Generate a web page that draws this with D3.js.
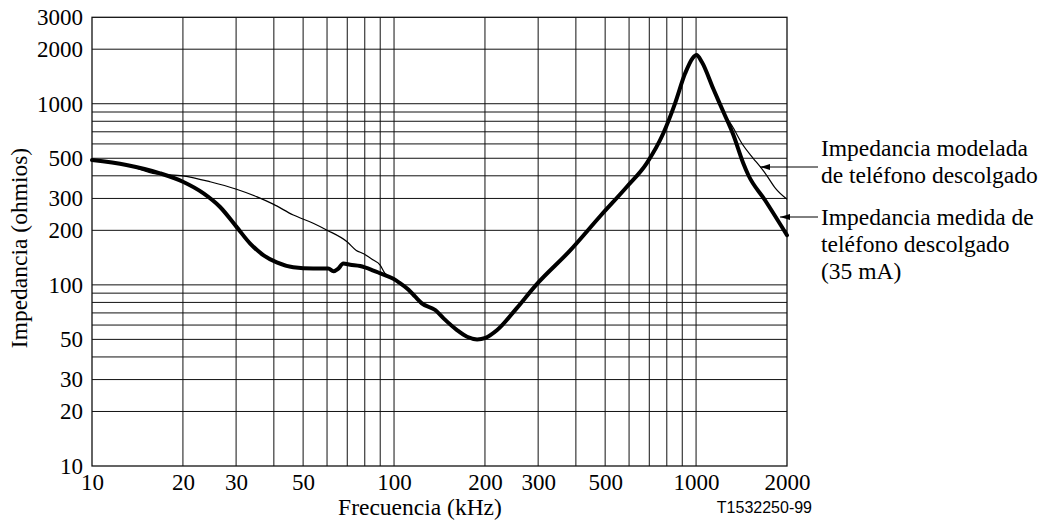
<!DOCTYPE html>
<html>
<head>
<meta charset="utf-8">
<script src="https://cdn.jsdelivr.net/npm/d3@7"></script>
<style>
html,body{margin:0;padding:0;background:#fff;}
svg{display:block;}
text{font-family:"Liberation Serif","Times New Roman",serif;fill:#000;}
</style>
</head>
<body>
<svg id="chart" width="1047" height="526"></svg>
<script>
// ---- data ----
const xTickLabels = [10, 20, 30, 50, 100, 200, 300, 500, 1000, 2000];
const yTickLabels = [10, 20, 30, 50, 100, 200, 300, 500, 1000, 2000, 3000];
const xGrid = [20, 30, 40, 50, 60, 70, 80, 90, 100, 200, 300, 400, 500, 600, 700, 800, 900, 1000];
const yGrid = [20, 30, 40, 50, 60, 70, 80, 90, 100, 200, 300, 400, 500, 600, 700, 800, 900, 1000, 2000];

// measured impedance (thick line)
const measuredFreq = [10, 13, 16.8, 20, 23.4, 26.5, 30.1, 33.4, 36.9, 40.9, 46.4, 54, 60.6, 63, 65.4, 67.9, 71.6, 77.2, 85.4, 89.8, 99.5, 104, 111.7, 117.5, 123.6, 136.9, 145.9, 161.6, 174.5, 188.4, 200.8, 219.5, 254.5, 295, 383, 482, 590, 686, 779, 852, 920, 975, 1003, 1045, 1141, 1232, 1329, 1433, 1489, 1690, 2000];
const measuredZ    = [489, 459, 413, 371, 320, 270, 209, 169, 146, 133, 125, 123, 123, 119, 123, 131, 129, 127, 120, 116, 108, 103, 94, 86, 79, 72.6, 65.3, 56.3, 51.7, 50, 51, 56.3, 74.2, 99.7, 155, 240, 348, 469, 687, 1005, 1471, 1790, 1858, 1700, 1205, 900, 672, 469, 404, 294, 188];

// modelled impedance (thin line)
const modelFreq = [10, 13, 16.3, 20, 24.6, 30.1, 35.2, 39.8, 46.4, 54, 59.8, 69.9, 75, 79, 85.4, 89.8, 93.2, 99.5, 104, 111.7, 117.5, 123.6, 136.9, 145.9, 161.6, 174.5, 188.4, 200.8, 219.5, 254.5, 295, 383, 482, 590, 686, 779, 852, 920, 975, 1003, 1045, 1141, 1232, 1329, 1417, 1546, 1630, 1710, 1832, 2000];
const modelZ    = [489, 459, 410, 400, 371, 337, 306, 279, 243, 219, 201, 173, 155, 149, 137, 129, 116, 108, 103, 94, 86, 79, 72.6, 65.3, 56.3, 51.7, 50, 51, 56.3, 74.2, 99.7, 155, 240, 348, 469, 687, 1005, 1471, 1790, 1858, 1700, 1205, 900, 734, 605, 500, 449, 404, 341, 297];

const legendModel = ["Impedancia modelada", "de teléfono descolgado"];
const legendMeasured = ["Impedancia medida de", "teléfono descolgado", "(35 mA)"];

// ---- chart ----
const svg = d3.select("#chart");
const x = d3.scaleLog().domain([10, 2000]).range([92, 787]);
const y = d3.scaleLog().domain([10, 3000]).range([466, 17.3]);

const grid = svg.append("g").attr("stroke", "#111").attr("stroke-width", 1);
grid.selectAll("line.v").data(xGrid).enter().append("line")
  .attr("x1", d => x(d)).attr("x2", d => x(d)).attr("y1", y(3000)).attr("y2", y(10));
grid.selectAll("line.h").data(yGrid).enter().append("line")
  .attr("x1", x(10)).attr("x2", x(2000)).attr("y1", d => y(d)).attr("y2", d => y(d));

svg.append("rect").attr("x", x(10)).attr("y", y(3000))
  .attr("width", x(2000) - x(10)).attr("height", y(10) - y(3000))
  .attr("fill", "none").attr("stroke", "#111").attr("stroke-width", 1.3);

// axes (labels only)
const xAxis = d3.axisBottom(x).tickValues(xTickLabels).tickFormat(d3.format("d")).tickSize(0).tickPadding(8);
const gx = svg.append("g").attr("transform", `translate(0,${y(10)})`).call(xAxis);
gx.select(".domain").remove();
gx.selectAll("text").attr("font-size", 23).attr("fill", "#000");

const yAxis = d3.axisLeft(y).tickValues(yTickLabels).tickFormat(d3.format("d")).tickSize(0).tickPadding(9);
const gy = svg.append("g").attr("transform", `translate(${x(10)},0)`).call(yAxis);
gy.select(".domain").remove();
gy.selectAll("text").attr("font-size", 23).attr("fill", "#000");

// lines
const line = d3.line().x(d => x(d[0])).y(d => y(d[1])).curve(d3.curveMonotoneX);
svg.append("path").datum(modelFreq.map((f, i) => [f, modelZ[i]]))
  .attr("d", line).attr("fill", "none").attr("stroke", "#000").attr("stroke-width", 1.2);
svg.append("path").datum(measuredFreq.map((f, i) => [f, measuredZ[i]]))
  .attr("d", line).attr("fill", "none").attr("stroke", "#000").attr("stroke-width", 4)
  .attr("stroke-linejoin", "round").attr("stroke-linecap", "round");

// axis titles
svg.append("text").attr("x", 420).attr("y", 515).attr("text-anchor", "middle")
  .attr("font-size", 23.5).text("Frecuencia (kHz)");
svg.append("text").attr("transform", "translate(27,248) rotate(-90)").attr("text-anchor", "middle")
  .attr("font-size", 23.5).text("Impedancia (ohmios)");
svg.append("text").attr("x", 812).attr("y", 513).attr("text-anchor", "end")
  .attr("font-size", 16).style("font-family", "'Liberation Sans', Arial, sans-serif").text("T1532250-99");

// legend
const leg = svg.append("g");
leg.selectAll("text.m").data(legendModel).enter().append("text")
  .attr("x", 821).attr("y", (d, i) => 156 + i * 27).attr("font-size", 23.5).text(d => d);
leg.selectAll("text.s").data(legendMeasured).enter().append("text")
  .attr("x", 821).attr("y", (d, i) => 225 + i * 27).attr("font-size", 23.5).text(d => d);

svg.append("defs").append("marker").attr("id", "ah").attr("viewBox", "0 0 10 6")
  .attr("refX", 10).attr("refY", 3).attr("markerWidth", 10).attr("markerHeight", 6)
  .attr("markerUnits", "userSpaceOnUse").attr("orient", "auto")
  .append("path").attr("d", "M0,0 L10,3 L0,6 Z").attr("fill", "#000");
svg.append("line").attr("x1", 818).attr("y1", 167).attr("x2", 760).attr("y2", 167)
  .attr("stroke", "#000").attr("stroke-width", 1).attr("marker-end", "url(#ah)");
svg.append("line").attr("x1", 818).attr("y1", 217).attr("x2", 780).attr("y2", 217)
  .attr("stroke", "#000").attr("stroke-width", 1).attr("marker-end", "url(#ah)");
</script>
</body>
</html>
